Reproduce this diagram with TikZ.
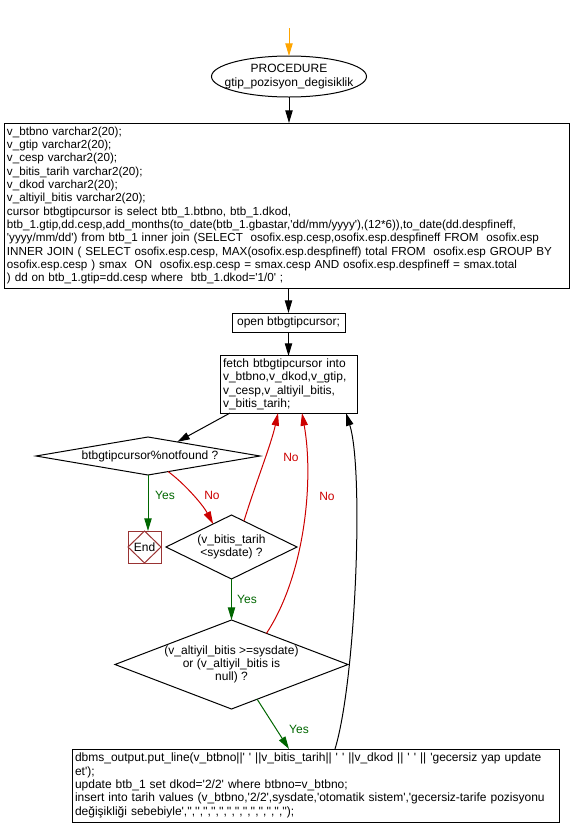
\documentclass[tikz,border=0pt]{standalone}
\usepackage{fontspec}
\newfontfamily\af{Liberation Sans}[Ligatures=TeXOff]
\usetikzlibrary{shapes.geometric,arrows.meta,calc}
\definecolor{cred}{RGB}{204,0,0}
\definecolor{cgreen}{RGB}{0,102,0}
\definecolor{corange}{RGB}{255,165,0}
\definecolor{cend}{RGB}{153,51,51}
\tikzset{
  box/.style={draw, rectangle, line width=0.75pt, inner sep=2.25pt, align=left},
  dia/.style={draw, diamond, line width=0.75pt, inner sep=0pt},
  conn/.style={line width=0.75pt, -{Triangle[length=9.5pt,width=5.5pt]}},
  ylbl/.style={text=cgreen, inner sep=0pt},
  nlbl/.style={text=cred, inner sep=0pt}}
\begin{document}
\begin{tikzpicture}[x=0.75pt,y=-0.75pt,
  every node/.style={font=\af\fontsize{9}{10}\selectfont, outer sep=0pt}]
\useasboundingbox (0,0) rectangle (574,836);

\coordinate (start) at (289,28);
\node[draw, ellipse, line width=0.75pt, inner sep=0pt, minimum width=116.25pt, minimum height=30.75pt] (proc) at (289,76.5) {};
\node[align=center] (proct) at (proc.center) {PROCEDURE\\gtip\_pozisyon\_degisiklik};

\node[box, minimum width=423.75pt, minimum height=123.75pt, text width=419.25pt, font=\af\fontsize{8.75}{10}\selectfont] (big) at (286.5,205.5) {%
v\_btbno varchar2(20);\\
v\_gtip varchar2(20);\\
v\_cesp varchar2(20);\\
v\_bitis\_tarih varchar2(20);\\
v\_dkod varchar2(20);\\
v\_altiyil\_bitis varchar2(20);\\
cursor btbgtipcursor is select btb\_1.btbno, btb\_1.dkod,\\
btb\_1.gtip,dd.cesp,add\_months(to\_date(btb\_1.gbastar,'dd/mm/yyyy'),(12*6)),to\_date(dd.despfineff,\\
'yyyy/mm/dd') from btb\_1 inner join (SELECT \ osofix.esp.cesp,osofix.esp.despfineff FROM \ osofix.esp\\
INNER JOIN ( SELECT osofix.esp.cesp, MAX(osofix.esp.despfineff) total FROM \ osofix.esp GROUP BY\\
osofix.esp.cesp ) smax \ ON \ osofix.esp.cesp = smax.cesp AND osofix.esp.despfineff = smax.total\\
) dd on btb\_1.gtip=dd.cesp where \ btb\_1.dkod='1/0' ;};

\node[box, minimum width=84.75pt, minimum height=14.25pt, align=center] (open) at (288.5,322.5) {open btbgtipcursor;};

\node[box, minimum width=102.75pt, minimum height=42.75pt, text width=98.25pt] (fetch) at (288.5,384.5) {fetch btbgtipcursor into\\
v\_btbno,v\_dkod,v\_gtip,\\
v\_cesp,v\_altiyil\_bitis,\\
v\_bitis\_tarih;};

\node[dia, minimum width=168pt, minimum height=28.5pt] (d1) at (148,456) {};
\node (d1t) at (150,456) {btbgtipcursor\%notfound ?};

\node[draw=cend, line width=0.75pt, inner sep=0pt, minimum width=24.75pt, minimum height=24pt] (End) at (144.5,547) {End};
\draw[cend, line width=0.75pt] (End.north) -- (End.east) -- (End.south) -- (End.west) -- cycle;

\node[dia, minimum width=98.25pt, minimum height=48pt] (d2) at (231.5,547) {};
\node[align=center] (d2t) at (d2.center) {(v\_bitis\_tarih\\<sysdate) ?};

\node[dia, minimum width=174.75pt, minimum height=66.75pt] (d3) at (231.5,664.5) {};
\node[align=center] (d3t) at (d3.center) {(v\_altiyil\_bitis >=sysdate)\\or (v\_altiyil\_bitis is\\null) ?};

\node[box, minimum width=365.25pt, minimum height=54.75pt, text width=360.75pt] (dbms) at (315.5,785.5) {%
dbms\_output.put\_line(v\_btbno||' ' ||v\_bitis\_tarih|| ' ' ||v\_dkod || ' ' || 'gecersiz yap update\\
et');\\
update btb\_1 set dkod='2/2' where btbno=v\_btbno;\\
insert into tarih values (v\_btbno,'2/2',sysdate,'otomatik sistem','gecersiz-tarife pozisyonu\\
değişikliği sebebiyle','','','','','','','','','','','','','');};

% connectors
\draw[conn, corange] (start) -- (proc.north);
\draw[conn] (proc.south) -- (proc.south |- big.north);
\draw[conn] (open.north |- big.south) -- (open.north);
\draw[conn] (open.south) -- (fetch.north);
\draw[conn] ([xshift=7.5pt]fetch.south west) -- ($(d1.north)!0.26!(d1.east)$);
\draw[conn, cgreen] (d1.south) -- (d1.south |- End.north);
\draw[conn, cred] ($(d1.south)!0.18!(d1.east)$) .. controls (185,484) and (203,505) .. ($(d2.north)!0.28!(d2.west)$);
\draw[conn, cred] ($(d2.north)!0.19!(d2.east)$) .. controls (256,482) and (271,445) .. ([xshift=43.5pt]fetch.south west);
\draw[conn, cgreen] (d2.south) -- (d3.north);
\draw[conn, cred] ($(d3.north)!0.3!(d3.east)$) .. controls (305,575) and (314,480) .. ([xshift=61.5pt]fetch.south west);
\draw[conn, cgreen] ($(d3.south)!0.22!(d3.east)$) -- ([xshift=162.75pt]dbms.north west);
\draw[conn] ([xshift=197.25pt]dbms.north west) .. controls (356,680) and (364,470) .. ([xshift=94.5pt]fetch.south west);

% labels
\node[ylbl] (l1) at (165,495) {Yes};
\node[nlbl] (l2) at (212,495) {No};
\node[nlbl] (l3) at (291,457) {No};
\node[nlbl] (l4) at (327,496) {No};
\node[ylbl] (l5) at (247,599) {Yes};
\node[ylbl] (l6) at (299,729) {Yes};
\end{tikzpicture}
\end{document}
